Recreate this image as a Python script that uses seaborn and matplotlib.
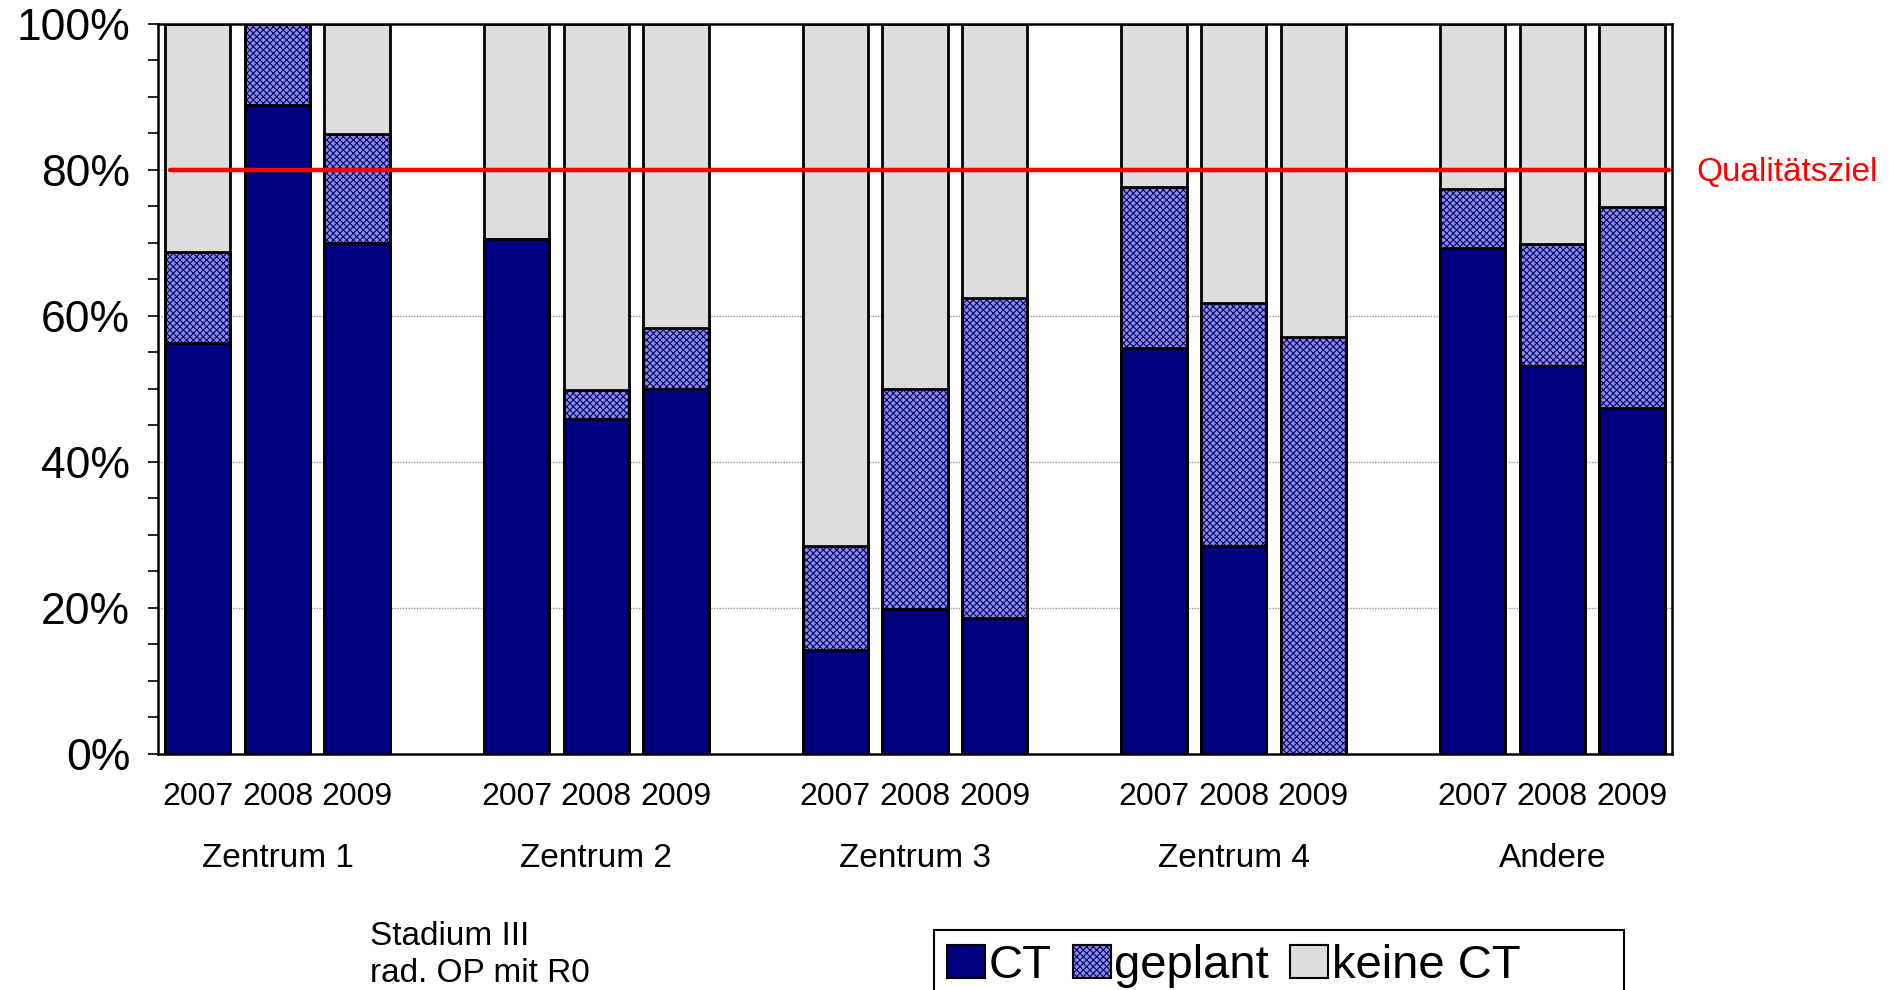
import numpy as np
import pandas as pd
import matplotlib
matplotlib.use("Agg")
import matplotlib.pyplot as plt
from matplotlib.patches import Patch, Rectangle
from matplotlib.ticker import MultipleLocator, FuncFormatter
import seaborn as sns

# ---------------- data ----------------
centers = ["Zentrum 1", "Zentrum 2", "Zentrum 3", "Zentrum 4", "Andere"]
years = ["2007", "2008", "2009"]
ct = [56.3, 88.9, 70.0,
      70.5, 45.9, 50.0,
      14.2, 19.9, 18.6,
      55.6, 28.5, 0.0,
      69.3, 53.2, 47.4]
geplant = [12.5, 11.1, 14.9,
           0.0, 4.0, 8.3,
           14.3, 30.1, 43.9,
           22.1, 33.3, 57.1,
           8.1, 16.7, 27.5]
series_names = ["CT", "geplant", "keine CT"]
target = 80
target_label = "Qualitätsziel"
note = "Stadium III\nrad. OP mit R0"

# ---------------- style ----------------
sns.set_style("white")
plt.rcParams["font.family"] = ["Liberation Sans", "DejaVu Sans"]
plt.rcParams["text.color"] = "black"
plt.rcParams["xtick.color"] = "black"
plt.rcParams["ytick.color"] = "black"
plt.rcParams["hatch.linewidth"] = 0.8

C_CT = "#000080"
C_KEINE = "#DDDDDD"
C_GP = "#8e8ed2"
HATCH = "xxxxx"

keys, order, ticklabels = [], [], []
for i, c in enumerate(centers):
    for y in years:
        k = f"{c} {y}"
        keys.append(k)
        order.append(k)
        ticklabels.append(y)
    if i < len(centers) - 1:
        order.append(f"gap{i}")
        ticklabels.append("")

df = pd.DataFrame({"slot": keys, "ct": ct, "geplant": geplant})
df["ct_geplant"] = df["ct"] + df["geplant"]
df["total"] = 100.0

W_PX, H_PX = 1889, 990
fig = plt.figure(figsize=(W_PX / 100, H_PX / 100), dpi=100)
ax = fig.add_axes([0.0836, 0.2384, 0.8015, 0.7374])

W = 0.82
common = dict(data=df, x="slot", order=order, width=W, errorbar=None,
              saturation=1, ax=ax)
# fills
sns.barplot(y="total", color=C_KEINE, edgecolor=C_KEINE, linewidth=0, **common)
sns.barplot(y="ct_geplant", color=C_GP, edgecolor=C_CT, hatch=HATCH, linewidth=0, **common)
sns.barplot(y="ct", color=C_CT, edgecolor=C_CT, linewidth=0, **common)
# outlines
for col in ["total", "ct_geplant", "ct"]:
    sns.barplot(y=col, fill=False, color="black", linewidth=2.0, **common)

ax.set_xlim(-0.5, len(order) - 0.5)
ax.set_ylim(0, 100)
ax.set_xlabel("")
ax.set_ylabel("")

# target line
ax.axhline(target, xmin=0.008, xmax=0.998, color="red", linewidth=3.2, zorder=5)
ax.text(1.016, target - 0.4, target_label, color="red", fontsize=24,
        transform=ax.get_yaxis_transform(), ha="left", va="center")

# x tick labels (years) and group labels
ax.set_xticks(range(len(order)))
ax.set_xticklabels(ticklabels, fontsize=23)
ax.tick_params(axis="x", length=0, pad=20)
for i, c in enumerate(centers):
    ax.text(i * 4 + 1, -0.143, c, fontsize=24, ha="center", va="center",
            transform=ax.get_xaxis_transform())

# y axis
ax.yaxis.set_major_locator(MultipleLocator(20))
ax.yaxis.set_minor_locator(MultipleLocator(5))
ax.yaxis.set_major_formatter(FuncFormatter(lambda v, p: f"{int(v)}%"))
ax.tick_params(axis="y", which="major", labelsize=32, length=7, width=1.2,
               direction="out", pad=13, left=True)
ax.tick_params(axis="y", which="minor", length=7, width=1.2, direction="out", left=True)
ax.yaxis.grid(True, which="major", linestyle=(0, (1, 1)), color="#999999", linewidth=1)
ax.set_axisbelow(True)
for s in ax.spines.values():
    s.set_visible(True)
    s.set_color("black")
    s.set_linewidth(1.8)

# note text
fig.text(370 / W_PX, 1 - 921 / H_PX, note, fontsize=24, ha="left", va="top",
         linespacing=1.25)

# legend (frame drawn separately, as in the reference it extends below the figure)
h_ct = Patch(facecolor=C_CT, edgecolor="black", linewidth=1.5)
h_gp = (Patch(facecolor=C_GP, edgecolor=C_CT, hatch=HATCH, linewidth=0),
        Patch(facecolor="none", edgecolor="black", linewidth=1.5))
h_ke = Patch(facecolor=C_KEINE, edgecolor="black", linewidth=1.5)
leg = fig.legend([h_ct, h_gp, h_ke], series_names, loc="upper left",
                 bbox_to_anchor=(947 / W_PX, 1 - 944 / H_PX), bbox_transform=fig.transFigure,
                 ncol=3, fontsize=34, frameon=False, borderaxespad=0, borderpad=0,
                 handlelength=0.8, handleheight=0.68, handletextpad=0.08,
                 columnspacing=0.45)
frame = Rectangle((934 / W_PX, -0.05), (1624 - 934) / W_PX, (1 - 930 / H_PX) + 0.05,
                  transform=fig.transFigure, facecolor="none", edgecolor="black",
                  linewidth=1.5, zorder=0)
fig.patches.append(frame)

fig.savefig("out.png", dpi=100)
